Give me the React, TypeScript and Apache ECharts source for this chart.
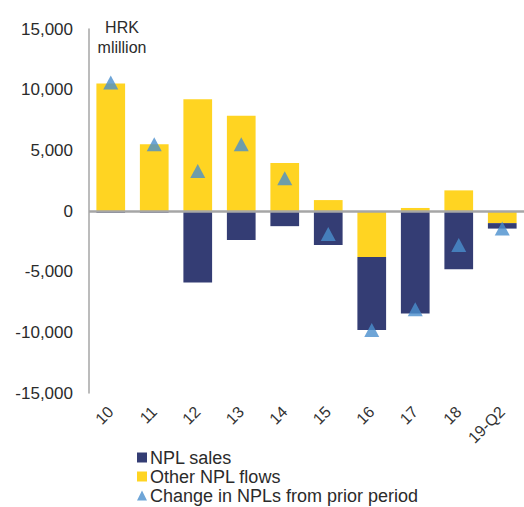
import React, { useEffect, useRef } from "react";
import * as echarts from "echarts";

const categories = ["10", "11", "12", "13", "14", "15", "16", "17", "18", "19-Q2"];
const nplSales = [-150, -150, -5900, -2400, -1250, -2800, -6000, -8450, -4800, -450];
const otherFlows = [10500, 5500, 9200, 7850, 3950, 900, -3800, 250, 1700, -1000];
const changeNPL = [10600, 5500, 3300, 5500, 2700, -1900, -9800, -8100, -2800, -1450];
const yTicks = { min: -15000, max: 15000, interval: 5000 };

const NAVY = "#343d74";
const YELLOW = "#ffd422";
const BLUE = "#4a8fcd";
const FONT = "'Liberation Sans', Arial, sans-serif";

export default function App() {
  const ref = useRef<HTMLDivElement>(null);
  useEffect(() => {
    const chart = echarts.init(ref.current!, null, { renderer: "svg" });
    chart.setOption({
      animation: false,
      textStyle: { fontFamily: FONT },
      grid: { left: 89, right: -5, top: 29, bottom: 114 },
      xAxis: {
        type: "category",
        data: categories,
        axisLine: { show: false },
        axisTick: { show: false },
        axisLabel: { rotate: 45, fontSize: 16, color: "#333", margin: 16, fontFamily: FONT },
      },
      yAxis: {
        type: "value",
        min: yTicks.min,
        max: yTicks.max,
        interval: yTicks.interval,
        axisLine: { show: true, lineStyle: { color: "#a6a6a6", width: 1.5 } },
        axisTick: { show: false },
        splitLine: { show: false },
        axisLabel: {
          fontSize: 17,
          color: "#2b2b2b",
          margin: 16,
          fontFamily: FONT,
          formatter: (v: number) => v.toLocaleString("en-US"),
        },
      },
      legend: {
        orient: "vertical",
        left: 137,
        top: 448,
        padding: 0,
        height: 80,
        itemWidth: 10,
        itemHeight: 10,
        itemGap: 0,
        data: [
          { name: "NPL sales", icon: "rect" },
          { name: "Other NPL flows", icon: "rect" },
          { name: "Change in NPLs from prior period", icon: "triangle" },
        ],
        textStyle: { fontSize: 18, lineHeight: 19, color: "#2b2b2b", fontFamily: FONT, padding: [0, 0, 0, -2] },
      },
      graphic: [
        {
          type: "text",
          x: 122,
          y: 17,
          style: {
            text: "HRK\nmlillion",
            fontSize: 16,
            lineHeight: 20,
            fill: "#2b2b2b",
            fontFamily: FONT,
            align: "center",
            verticalAlign: "top",
          },
        },
      ],
      series: [
        {
          name: "Other NPL flows",
          type: "bar",
          stack: "a",
          data: otherFlows,
          barCategoryGap: "34%",
          itemStyle: { color: YELLOW },
          markLine: {
            silent: true,
            symbol: "none",
            label: { show: false },
            lineStyle: { color: "#a6a6a6", width: 2.5, type: "solid" },
            data: [{ yAxis: 0 }],
          },
        },
        {
          name: "NPL sales",
          type: "bar",
          stack: "a",
          data: nplSales,
          barCategoryGap: "34%",
          itemStyle: { color: NAVY },
        },
        {
          name: "Change in NPLs from prior period",
          type: "scatter",
          data: changeNPL,
          symbol: "triangle",
          symbolSize: [15, 14],
          itemStyle: { color: BLUE },
          z: 5,
        },
      ],
    });
    return () => chart.dispose();
  }, []);
  return (
    <div
      ref={ref}
      style={{ position: "fixed", left: 0, top: 0, width: 524, height: 507, background: "#fff" }}
    />
  );
}
